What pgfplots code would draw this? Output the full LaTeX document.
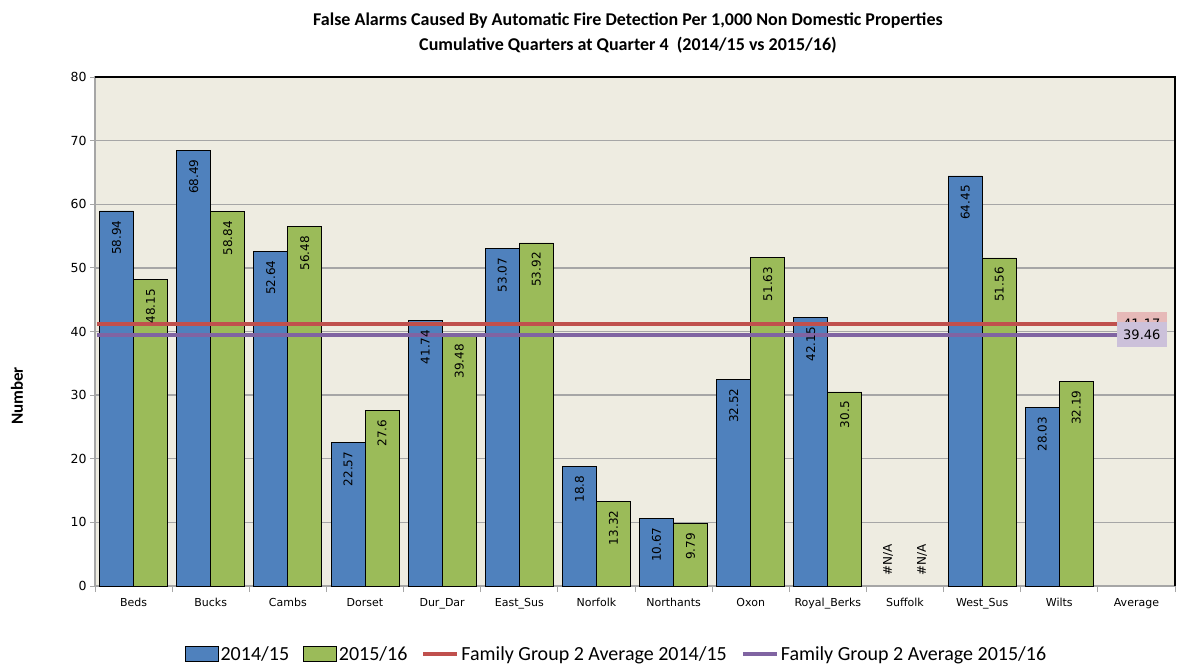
\documentclass[border=0pt]{standalone}
\usepackage{fontspec}
\setmainfont{Carlito}
\newfontfamily\dejavu{DejaVu Sans}
\usepackage{pgfplots}
\pgfplotsset{compat=1.18}
\definecolor{cblue}{HTML}{4F81BD}
\definecolor{cgreen}{HTML}{9BBB59}
\definecolor{cred}{HTML}{C0504D}
\definecolor{cpurple}{HTML}{8064A2}
\definecolor{cbg}{HTML}{EEECE1}
\definecolor{cgrid}{HTML}{A6A6A6}
\definecolor{credbox}{HTML}{E6B9B8}
\definecolor{cpurbox}{HTML}{CCC1DA}
\begin{document}
\begin{tikzpicture}
\useasboundingbox (0pt,0pt) rectangle (1190pt,665pt);
\node[font=\fontsize{18}{25}\selectfont\bfseries, align=center] at (628pt,631.5pt)
  {False Alarms Caused By Automatic Fire Detection Per 1,000 Non Domestic Properties\\
   Cumulative Quarters at Quarter 4\ \ (2014/15 vs 2015/16)};
\node[rotate=90, font=\fontsize{17}{20}\selectfont\bfseries] at (17pt,269pt) {Number};
\begin{axis}[
  at={(95pt,79pt)}, anchor=south west,
  scale only axis, width=1080pt, height=509pt,
  axis background/.style={fill=cbg},
  xmin=-0.5, xmax=13.5, ymin=0, ymax=80,
  ytick={0,10,...,80},
  ymajorgrids, grid style={cgrid, line width=1.3pt},
  xtick={0,...,13},
  xticklabels={Beds,Bucks,Cambs,Dorset,Dur\_Dar,East\_Sus,Norfolk,Northants,Oxon,Royal\_Berks,Suffolk,West\_Sus,Wilts,Average},
  minor xtick={-0.5,0.5,...,13.5},
  major x tick style={draw=none},
  tick align=outside, xtick pos=bottom, ytick pos=left,
  major tick length=5pt, minor tick length=6pt,
  tick style={cgrid, line width=1pt},
  axis line style={cgrid, line width=1.3pt},
  /pgf/number format/assume math mode=true,
  xticklabel style={font=\dejavu\fontsize{11}{13}\selectfont, yshift=-4pt},
  yticklabel style={font=\dejavu\fontsize{12.5}{14}\selectfont},
  legend style={at={(0.4824,-0.1336)}, anchor=center, draw=none, fill=none,
    legend columns=4, font=\fontsize{20}{24}\selectfont,
    nodes={inner sep=1pt},
    /tikz/every odd column/.append style={column sep=1pt},
    /tikz/every even column/.append style={column sep=13pt}},
  clip=false,
]
\addplot[ybar, bar width=34pt, bar shift=0pt, fill=cblue, draw=black, line width=0.8pt,
  legend image code/.code={\draw[fill=cblue, draw=black, line width=0.8pt] (0pt,-7pt) rectangle (33pt,8pt);},
  nodes near coords={\pgfmathprintnumber[assume math mode=true,fixed,precision=2]{\pgfplotspointmeta}},
  every node near coord/.append style={rotate=90, anchor=east, inner xsep=9pt, font=\dejavu\fontsize{12}{14}\selectfont, text=black}]
  coordinates {(-0.2204,58.94) (0.7796,68.49) (1.7796,52.64) (2.7796,22.57) (3.7796,41.74) (4.7796,53.07) (5.7796,18.8) (6.7796,10.67) (7.7796,32.52) (8.7796,42.15) (10.7796,64.45) (11.7796,28.03)};
\addlegendentry{2014/15}
\addplot[ybar, bar width=34pt, bar shift=0pt, fill=cgreen, draw=black, line width=0.8pt,
  legend image code/.code={\draw[fill=cgreen, draw=black, line width=0.8pt] (0pt,-7pt) rectangle (33pt,8pt);},
  nodes near coords={\pgfmathprintnumber[assume math mode=true,fixed,precision=2]{\pgfplotspointmeta}},
  every node near coord/.append style={rotate=90, anchor=east, inner xsep=9pt, font=\dejavu\fontsize{12}{14}\selectfont, text=black}]
  coordinates {(0.2204,48.15) (1.2204,58.84) (2.2204,56.48) (3.2204,27.6) (4.2204,39.48) (5.2204,53.92) (6.2204,13.32) (7.2204,9.79) (8.2204,51.63) (9.2204,30.5) (11.2204,51.56) (12.2204,32.19)};
\addlegendentry{2015/16}
\addplot[sharp plot, cred, line width=4pt, no markers,
  legend image code/.code={\draw[cred, line width=4pt] (0pt,0pt) -- (34pt,0pt);}]
  coordinates {(-0.47,41.17) (13.0,41.17)};
\addlegendentry{Family Group 2 Average 2014/15}
\addplot[sharp plot, cpurple, line width=4pt, no markers,
  legend image code/.code={\draw[cpurple, line width=4pt] (0pt,0pt) -- (34pt,0pt);}]
  coordinates {(-0.47,39.46) (13.0,39.46)};
\addlegendentry{Family Group 2 Average 2015/16}
\node[rotate=90, font=\dejavu\fontsize{12}{14}\selectfont] at (axis cs:9.78,4.1) {\#N/A};
\node[rotate=90, font=\dejavu\fontsize{12}{14}\selectfont] at (axis cs:10.22,4.1) {\#N/A};
\node[fill=credbox, minimum width=50pt, minimum height=24pt, inner sep=0pt, font=\dejavu\fontsize{13}{15}\selectfont] at (axis cs:13.07,41.17) {41.17};
\node[fill=cpurbox, minimum width=50pt, minimum height=25pt, inner sep=0pt, font=\dejavu\fontsize{13}{15}\selectfont] at (axis cs:13.07,39.46) {39.46};
\draw[black, line width=1.3pt] (rel axis cs:0,1) -- (rel axis cs:1,1) -- (rel axis cs:1,0);
\end{axis}
\end{tikzpicture}
\end{document}
